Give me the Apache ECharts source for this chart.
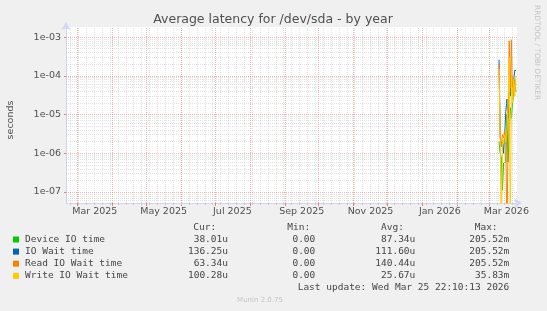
<!DOCTYPE html>
<html><head><meta charset="utf-8">
<script src="https://cdn.jsdelivr.net/npm/echarts@6/dist/echarts.min.js"></script>
<style>html,body{margin:0;padding:0;background:#f0f0f0}#c{width:547px;height:311px}</style>
</head><body><div id="c"></div>
<script>
// ---- data ----
const seriesNames = ['Device IO time', 'IO Wait time', 'Read IO Wait time', 'Write IO Wait time'];
const seriesColors = ['#00cc00', '#0066b3', '#ff8000', '#ffcc00'];
const dates = ['2026-03-10','2026-03-11','2026-03-12','2026-03-13','2026-03-14','2026-03-15','2026-03-16','2026-03-17',
               '2026-03-18','2026-03-19','2026-03-20','2026-03-21','2026-03-22','2026-03-23','2026-03-24','2026-03-25'];
const deviceIO  = [2e-6, 1e-6, 8e-7, 1.1e-7, 5.6e-7, 5e-7, 6e-7, 1e-5, 6e-7, 3e-6, 1.5e-5, 8e-6, 2e-5, 4e-5, 8e-5, 3.8e-5];
const ioWait    = [2.6e-4, 3e-6, 1.5e-6, 2e-6, 1e-6, 3e-6, 1.2e-5, 2.5e-5, 8e-6, 4e-5, 3e-5, 1e-4, 5e-5, 8e-5, 1.4e-4, 1.36e-4];
const readWait  = [2e-4, 2.5e-6, 1.5e-6, 3e-6, 2.5e-6, 4e-6, 2.5e-6, 0, 3e-6, 8e-4, 5e-5, 8.5e-4, 2e-5, 7e-5, 4e-5, 6.33e-5];
const writeWait = [1.5e-4, 2e-6, 0, 2.5e-6, 1.8e-6, 3e-6, 2e-6, 4e-6, 2e-5, 3e-4, 0, 1e-4, 2e-5, 8e-5, 3e-5, 1e-4];
const curVals = ['38.01u', '136.25u', '63.34u', '100.28u'];
const minVals = ['0.00', '0.00', '0.00', '0.00'];
const avgVals = ['87.34u', '111.60u', '140.44u', '25.67u'];
const maxVals = ['205.52m', '205.52m', '205.52m', '35.83m'];
const yTickValues = [1e-7, 1e-6, 1e-5, 1e-4, 1e-3];
const xLabelMonths = ['2025-03', '2025-05', '2025-07', '2025-09', '2025-11', '2026-01', '2026-03'];
const titleText = 'Average latency for /dev/sda - by year';
const lastUpdate = 'Last update: Wed Mar 25 22:10:13 2026';

// ---- scales ----
const xMin = Date.UTC(2025, 1, 18, 22, 10, 13);
const xMax = Date.UTC(2026, 2, 25, 22, 10, 13);
const yMin = 5.2e-8, yMax = 1.82e-3;
const DAY = 86400000;
const monthNames = ['Jan','Feb','Mar','Apr','May','Jun','Jul','Aug','Sep','Oct','Nov','Dec'];
const ts = s => { const p = s.split('-').map(Number); return Date.UTC(p[0], p[1]-1, p[2] || 1); };

const monthStarts = [];
for (let y = 2025, m = 2; ; ) { const t = Date.UTC(y, m, 1); if (t > xMax) break; monthStarts.push(t); m++; if (m > 11) { m = 0; y++; } }
const sundays = [];
for (let t = Date.UTC(2025, 1, 23); t < xMax; t += 7 * DAY) sundays.push(t);
const labelPositions = xLabelMonths.map(s => { const p = s.split('-').map(Number); const a = Date.UTC(p[0], p[1]-1, 1), b = Date.UTC(p[0], p[1], 1); return (a + b) / 2; });

const gridMinor = 'rgba(185,185,185,0.42)';
const gridMajor = 'rgba(232,130,130,0.6)';
// vertical grid lines (time values)
const vData = [];
sundays.forEach(t => vData.push({ xAxis: t, lineStyle: { color: gridMinor, type: [1, 1], width: 1 } }));
monthStarts.forEach(t => vData.push({ xAxis: t, lineStyle: { color: gridMajor, type: [1, 1], width: 1 } }));
// horizontal grid lines on a helper linear axis in log10 space
const hData = [];
for (let e = -8; e <= -3; e++) for (let k = 2; k <= 9; k++) { const v = k * Math.pow(10, e); if (v > yMin && v < yMax) hData.push({ yAxis: Math.log10(v), lineStyle: { color: gridMinor, type: [1, 1], width: 1 } }); }
yTickValues.forEach(v => hData.push({ yAxis: Math.log10(v), lineStyle: { color: gridMajor, type: [1, 1], width: 1 } }));

const floorVal = yMin / 10;
const allSeries = [deviceIO, ioWait, readWait, writeWait];
const dataSeries = allSeries.map((arr, i) => ({
  type: 'line', name: seriesNames[i], z: 3 + i, symbol: 'none', showSymbol: false, clip: true,
  lineStyle: { color: seriesColors[i], width: 1 }, itemStyle: { color: seriesColors[i] },
  data: arr.map((v, j) => [ts(dates[j]), v > 0 ? v : floorVal])
}));

const fmtExp = v => { const e = Math.round(Math.log10(v)); const s = e < 0 ? '-' : '+'; return '1e' + s + String(Math.abs(e)).padStart(2, '0'); };

// ---- text graphics ----
const FONT = '"DejaVu Sans", sans-serif';
const MONO = '"DejaVu Sans Mono", monospace';
const txtCol = '#454545';
const g = [];
g.push({ type: 'text', x: 273, y: 20, style: { text: titleText, font: '12.5px ' + FONT, fill: '#505050', align: 'center', verticalAlign: 'middle' } });
g.push({ type: 'text', x: 11, y: 120, rotation: Math.PI / 2, style: { text: 'seconds', font: '9.5px ' + FONT, fill: '#505050', align: 'center', verticalAlign: 'middle' } });
g.push({ type: 'text', x: 537, y: 5, rotation: -Math.PI / 2, style: { text: 'RRDTOOL / TOBI OETIKER', font: '7.4px ' + FONT, fill: '#c4c4c4', align: 'left', verticalAlign: 'middle' } });
const hdrY = 227.5;
[['Cur:', 193.3], ['Min:', 287.3], ['Avg:', 381], ['Max:', 474.7]].forEach(h =>
  g.push({ type: 'text', x: h[1], y: hdrY, style: { text: h[0], font: '9.5px ' + MONO, fill: txtCol, align: 'left', verticalAlign: 'middle' } }));
seriesNames.forEach((n, i) => {
  const y = 239.5 + i * 12.1;
  g.push({ type: 'rect', shape: { x: 13, y: y - 3, width: 6, height: 6 }, style: { fill: seriesColors[i] } });
  g.push({ type: 'text', x: 25, y: y, style: { text: n, font: '9.5px ' + MONO, fill: txtCol, align: 'left', verticalAlign: 'middle' } });
  [[curVals[i], 228], [minVals[i], 315.3], [avgVals[i], 415.3], [maxVals[i], 509.3]].forEach(c =>
    g.push({ type: 'text', x: c[1], y: y, style: { text: c[0], font: '9.5px ' + MONO, fill: txtCol, align: 'right', verticalAlign: 'middle' } }));
});
g.push({ type: 'text', x: 509.3, y: 288, style: { text: lastUpdate, font: '9.5px ' + MONO, fill: txtCol, align: 'right', verticalAlign: 'middle' } });
g.push({ type: 'text', x: 260, y: 300.5, style: { text: 'Munin 2.0.75', font: '7px ' + FONT, fill: '#c4c4c4', align: 'center', verticalAlign: 'middle' } });

const axisCol = '#cfd6f8';
const chart = echarts.init(document.getElementById('c'), null, { renderer: 'canvas' });
chart.setOption({
  animation: false,
  backgroundColor: '#f0f0f0',
  grid: { left: 66, right: 30, top: 27, bottom: 108, show: true, backgroundColor: '#ffffff', borderWidth: 0 },
  xAxis: [{
    type: 'value', min: xMin, max: xMax, gridIndex: 0,
    axisLine: { show: true, lineStyle: { color: axisCol, width: 1 }, symbol: ['none', 'arrow'], symbolSize: [7, 8], symbolOffset: [0, 5] },
    axisTick: { show: true, customValues: monthStarts, length: 3, lineStyle: { color: '#e88080' } },
    axisLabel: { show: true, customValues: labelPositions, margin: 4, hideOverlap: false, showMinLabel: true, showMaxLabel: true,
      formatter: v => { const d = new Date(v); return monthNames[d.getUTCMonth()] + ' ' + d.getUTCFullYear(); },
      fontFamily: 'DejaVu Sans', fontSize: 9.5, color: '#505050' },
    splitLine: { show: false }
  }, {
    type: 'value', min: xMin, max: xMax, gridIndex: 0, position: 'bottom',
    axisLine: { show: false }, axisLabel: { show: false }, splitLine: { show: false },
    axisTick: { show: true, customValues: sundays, length: 2, lineStyle: { color: '#c8c8c8' } }
  }],
  yAxis: [{
    type: 'log', logBase: 10, min: yMin, max: yMax,
    axisLine: { show: true, lineStyle: { color: axisCol, width: 1 }, symbol: ['none', 'arrow'], symbolSize: [7, 8], symbolOffset: [0, 5] },
    axisTick: { show: true, customValues: yTickValues, length: 2, lineStyle: { color: '#e88080' } },
    axisLabel: { show: true, customValues: yTickValues, formatter: fmtExp, margin: 5, fontFamily: 'DejaVu Sans', fontSize: 9.5, color: '#505050' },
    splitLine: { show: false }, minorSplitLine: { show: false }
  }, {
    type: 'value', min: Math.log10(yMin), max: Math.log10(yMax), show: false,
    splitLine: { show: false }, axisLine: { show: false }, axisTick: { show: false }, axisLabel: { show: false }
  }],
  series: [{
    type: 'line', name: 'vgrid', data: [], z: 1, silent: true, symbol: 'none', xAxisIndex: 0, yAxisIndex: 1,
    markLine: { silent: true, symbol: ['none', 'none'], label: { show: false }, emphasis: { disabled: true }, animation: false, data: vData }
  }, {
    type: 'line', name: 'hgrid', data: [], z: 1, silent: true, symbol: 'none', xAxisIndex: 0, yAxisIndex: 1,
    markLine: { silent: true, symbol: ['none', 'none'], label: { show: false }, emphasis: { disabled: true }, animation: false, data: hData }
  }].concat(dataSeries),
  graphic: g
});
</script></body></html>
